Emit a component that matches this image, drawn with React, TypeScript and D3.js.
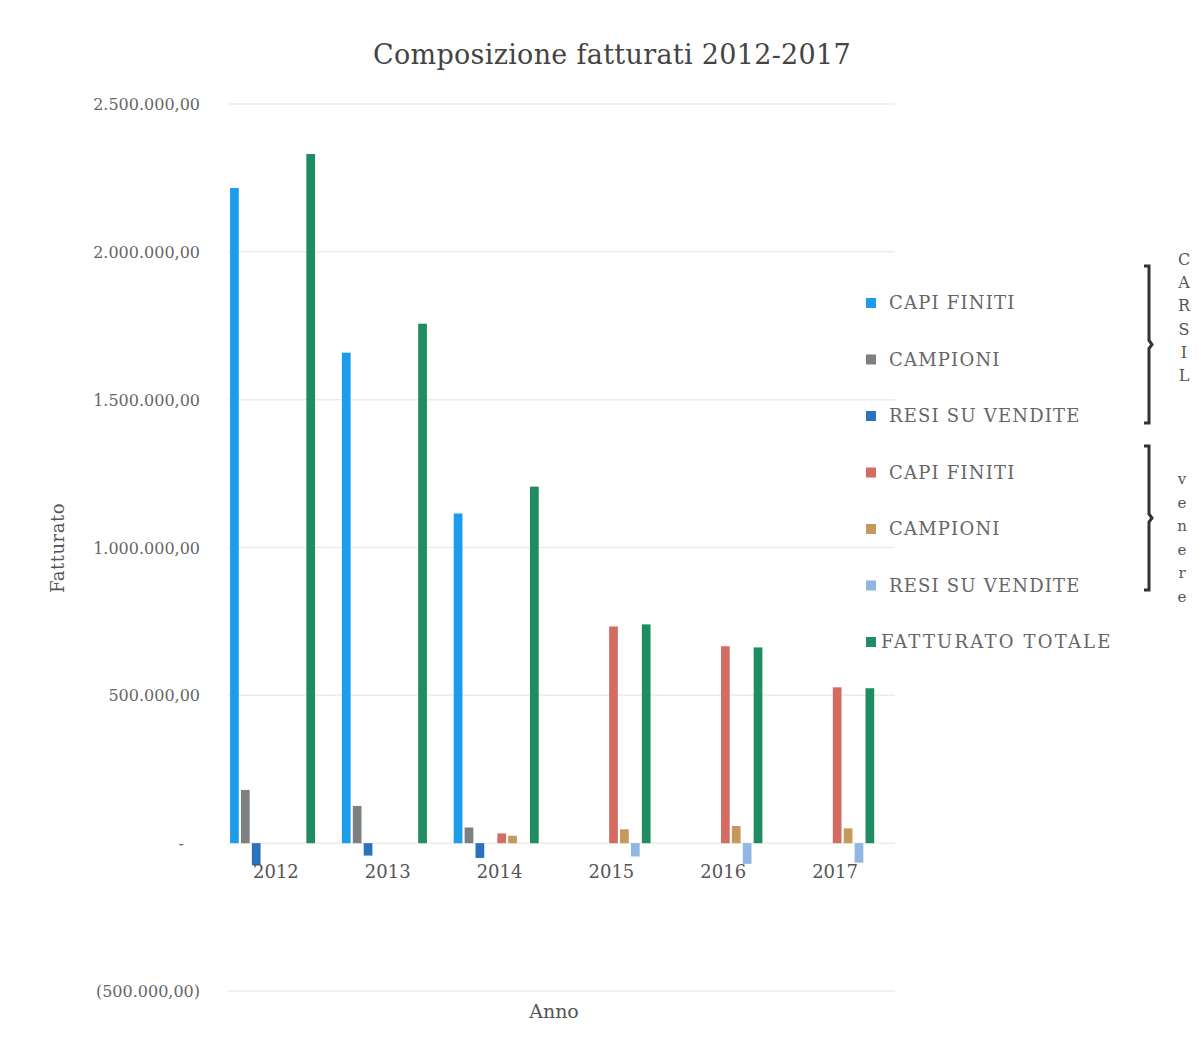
import React from "react";
import * as d3 from "d3";

const years = ["2012", "2013", "2014", "2015", "2016", "2017"];
const seriesKeys = ["carsilCapi", "carsilCampioni", "carsilResi", "gap", "venereCapi", "venereCampioni", "venereResi", "totale"];
const carsilCapi = [2216000, 1659000, 1115000, 0, 0, 0];
const carsilCampioni = [180000, 126000, 53000, 0, 0, 0];
const carsilResi = [-75000, -42000, -50000, 0, 0, 0];
const venereCapi = [0, 0, 33000, 733000, 666000, 527000];
const venereCampioni = [0, 0, 25000, 47000, 58000, 50000];
const venereResi = [0, 0, 0, -45000, -70000, -66000];
const totale = [2331000, 1757000, 1206000, 740000, 662000, 524000];
const yTicks = [-500000, 0, 500000, 1000000, 1500000, 2000000, 2500000];
const legendLabels = ["CAPI FINITI", "CAMPIONI", "RESI SU VENDITE", "CAPI FINITI", "CAMPIONI", "RESI SU VENDITE", "FATTURATO TOTALE"];
const legendKeys = ["carsilCapi", "carsilCampioni", "carsilResi", "venereCapi", "venereCampioni", "venereResi", "totale"];
const colors: Record<string, string> = {
  carsilCapi: "#1d9cec",
  carsilCampioni: "#7c8080",
  carsilResi: "#2a72bd",
  gap: "none",
  venereCapi: "#d36c62",
  venereCampioni: "#c39a5c",
  venereResi: "#92b6e2",
  totale: "#1f8c62",
};
const groupLetters1 = ["C", "A", "R", "S", "I", "L"];
const groupLetters2 = ["v", "e", "n", "e", "r", "e"];

const values: Record<string, number[]> = {
  carsilCapi, carsilCampioni, carsilResi,
  gap: [0, 0, 0, 0, 0, 0],
  venereCapi, venereCampioni, venereResi, totale,
};

const W = 1199, H = 1052;
const FONT = "'DejaVu Serif', 'Liberation Serif', serif";

function fmt(v: number): string {
  if (v === 0) return "-";
  const s = d3.format(",.2f")(Math.abs(v)).replace(/,/g, "#").replace(".", ",").replace(/#/g, ".");
  return v < 0 ? `(${s})` : s;
}

export default function App() {
  const x0 = d3.scaleBand<string>().domain(years).range([220, 891]).padding(0);
  const bw = x0.bandwidth();
  const x1 = d3.scaleBand<string>().domain(seriesKeys).range([bw * 0.09, bw * 0.85]).paddingInner(0.2);
  const y = d3.scaleLinear().domain([-500000, 2500000]).range([991, 104]);
  const y0 = y(0);

  const bracket = (top: number, bottom: number, xb: number) => {
    const mid = (top + bottom) / 2;
    return `M${xb - 5},${top} L${xb},${top} L${xb},${mid - 4} L${xb + 3},${mid} L${xb},${mid + 4} L${xb},${bottom} L${xb - 5},${bottom}`;
  };

  return (
    <svg width={W} height={H} style={{ position: "absolute", left: 0, top: 0, background: "#fff" }} fontFamily={FONT}>
      <text x={612} y={64} textAnchor="middle" fontSize={27} fill="#444" letterSpacing={0.3}>Composizione fatturati 2012-2017</text>
      {yTicks.map((t) => (
        <g key={t}>
          <line x1={228} x2={895} y1={y(t)} y2={y(t)} stroke="#ececec" strokeWidth={1.5} />
          <text x={t === 0 ? 184 : 200} y={y(t) + 6} textAnchor="end" fontSize={16} fill="#666">{fmt(t)}</text>
        </g>
      ))}
      {years.map((yr, i) => (
        <g key={yr} transform={`translate(${x0(yr)},0)`}>
          {seriesKeys.filter((k) => k !== "gap").map((k) => {
            const v = values[k][i];
            if (v === 0) return null;
            const yy = y(Math.max(0, v));
            const h = Math.abs(y(v) - y0);
            return <rect key={k} x={x1(k)} y={yy} width={x1.bandwidth()} height={h} fill={colors[k]} />;
          })}
          <text x={bw / 2} y={878} textAnchor="middle" fontSize={18} fill="#555">{yr}</text>
        </g>
      ))}
      <text transform={`translate(64,548) rotate(-90)`} textAnchor="middle" fontSize={18} fill="#555" letterSpacing={0.5}>Fatturato</text>
      <text x={554} y={1018} textAnchor="middle" fontSize={19} fill="#555">Anno</text>
      {legendKeys.map((k, i) => {
        const ly = 303 + i * 56.5;
        return (
          <g key={k + i}>
            <rect x={866} y={ly - 5} width={10} height={10} fill={colors[k]} />
            <text x={k === "totale" ? 881 : 889} y={ly + 6} fontSize={18} fill="#666" letterSpacing={k === "totale" ? 2.2 : 1.2}>{legendLabels[i]}</text>
          </g>
        );
      })}
      <path d={bracket(266, 423, 1149)} fill="none" stroke="#333" strokeWidth={3} />
      <path d={bracket(446, 590, 1149)} fill="none" stroke="#333" strokeWidth={3} />
      {groupLetters1.map((c, i) => (
        <text key={"a" + i} x={1184} y={265 + i * 23.2} textAnchor="middle" fontSize={16} fill="#555">{c}</text>
      ))}
      {groupLetters2.map((c, i) => (
        <text key={"b" + i} x={1182} y={484 + i * 23.5} textAnchor="middle" fontSize={15} fill="#555">{c}</text>
      ))}
    </svg>
  );
}
